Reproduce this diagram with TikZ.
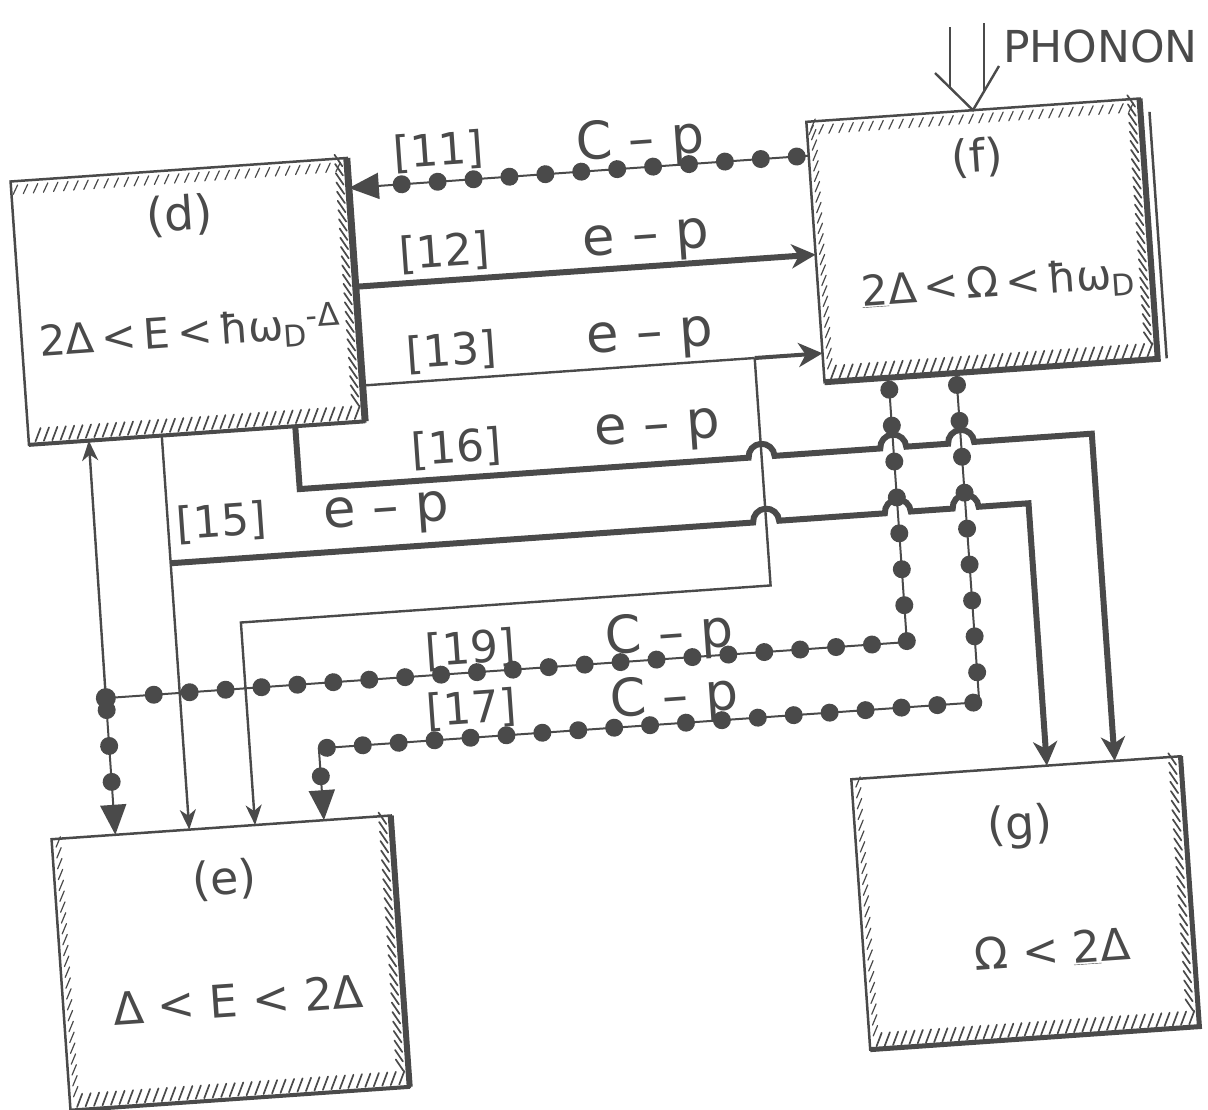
\documentclass[tikz,border=0pt]{standalone}
\usepackage{fontspec}
\setmainfont{DejaVu Sans}
\usetikzlibrary{arrows.meta,calc,decorations.markings}
\definecolor{ink}{HTML}{4A4A4A}
\newcommand{\fsz}[1]{\fontsize{#1}{#1}\selectfont}
\newcommand{\hatchB}[1]{\foreach \hp in {0.02,0.045,...,0.98}{\draw[hatch] ($(#1.south west)!\hp!(#1.south east)$) ++(0,-3) -- ++(6,-13);}}
\newcommand{\hatchT}[1]{\foreach \hp in {0.02,0.05,...,0.98}{\draw[hatch, line width=1.2pt] ($(#1.north west)!\hp!(#1.north east)$) ++(0,4) -- ++(-5,9);}}
\newcommand{\hatchR}[1]{\foreach \hp in {0.03,0.065,...,0.97}{\draw[hatch] ($(#1.north east)!\hp!(#1.south east)$) ++(-5,0) -- ++(-7,-12);}}
\newcommand{\hatchL}[1]{\foreach \hp in {0.03,0.07,...,0.97}{\draw[hatch, line width=1.2pt] ($(#1.north west)!\hp!(#1.south west)$) ++(4,0) -- ++(5,-10);}}
\begin{document}
\begin{tikzpicture}[x=1pt,y=-1pt,
  box/.style={draw=ink, line width=2.5pt, inner sep=0pt, outer sep=0pt},
  txt/.style={text=ink, inner sep=0pt, outer sep=0pt},
  hatch/.style={draw=ink, line width=1.7pt, line cap=round},
  thinln/.style={draw=ink, line width=2.4pt},
  thinarr/.style={thinln, -{Stealth[length=20pt,width=16pt,inset=6pt]}},
  thickln/.style={draw=ink, line width=6pt},
  thickarr/.style={thickln, -{Stealth[length=24pt,width=24pt,inset=7pt]}},
  beadln/.style={draw=ink, line width=2pt, postaction={decorate},
    decoration={markings, mark=between positions 12pt and -30pt step 36pt with {\fill[ink] (0,0) circle (9pt);}}},
  beadarr/.style={beadln, -{Triangle[length=30pt,width=26pt]}}]
\useasboundingbox (0,0) rectangle (1208,1109);
\fill[white] (0,0) rectangle (1208,1109);
\begin{scope}[rotate around={4:(604,554)}, transform shape]
  % boxes
  \node[box, minimum width=337pt, minimum height=264pt] (d) at (206.5,273) {};
  \node[box, minimum width=334pt, minimum height=261pt] (f) at (1003,267.5) {};
  \node[box, minimum width=340pt, minimum height=272pt] (e) at (203,936) {};
  \node[box, minimum width=330pt, minimum height=271pt] (g) at (1000,931.5) {};
  \draw[ink, line width=7pt] (d.north east) -- (d.south east);
  \draw[ink, line width=4pt] (d.south east) -- (d.south west);
  \draw[ink, line width=6pt] (f.north east) -- (f.south east) -- (f.south west);
  \draw[ink, line width=2.5pt] ($(f.north east)+(9,14)$) -- ($(f.south east)+(9,0)$);
  \draw[ink, line width=6pt] (e.north east) -- (e.south east);
  \draw[ink, line width=4pt] (e.south east) -- (e.south west);
  \draw[ink, line width=5pt] (g.north east) -- (g.south east) -- (g.south west);
  \hatchB{d}\hatchR{d}\hatchT{d}
  \hatchB{f}\hatchR{f}\hatchT{f}\hatchL{f}
  \hatchB{e}\hatchR{e}\hatchL{e}
  \hatchB{g}\hatchR{g}\hatchL{g}
  % box texts
  \node[txt, font=\fsz{47}] (dl) at (204,187) {(d)};
  \node[txt, font=\fsz{42}] (dt) at (206,305) {2Δ\,<\,E\,<\,ħω\raisebox{-0.35ex}{\fsz{30}D}\raisebox{0.45ex}{\fsz{32}-Δ}};
  \node[txt, font=\fsz{45}] (fl) at (1004,185) {(f)};
  \node[txt, font=\fsz{42}] (ft) at (1016,313) {\underline{2}Δ\,<\,Ω\,<\,ħω\raisebox{-0.35ex}{\fsz{30}D}};
  \node[txt, font=\fsz{46}] (el) at (203,853) {(e)};
  \node[txt, font=\fsz{45}] (et) at (208,973) {Δ < E < 2Δ};
  \node[txt, font=\fsz{46}] (gl) at (1000,855) {(g)};
  \node[txt, font=\fsz{44}] (gt) at (1024,980) {Ω < \underline{2}Δ};
  % connector end points
  \coordinate (d11) at ($(d.north east)!0.114!(d.south east)$);
  \coordinate (d12) at ($(d.north east)!0.489!(d.south east)$);
  \coordinate (d13) at ($(d.north east)!0.864!(d.south east)$);
  \coordinate (f11) at ($(f.north west)!0.130!(f.south west)$);
  \coordinate (f12) at ($(f.north west)!0.510!(f.south west)$);
  \coordinate (f13) at ($(f.north west)!0.889!(f.south west)$);
  \coordinate (d19) at ($(d.south west)!0.178!(d.south east)$);
  \coordinate (d15) at ($(d.south west)!0.395!(d.south east)$);
  \coordinate (d16) at ($(d.south west)!0.792!(d.south east)$);
  \coordinate (f19) at ($(f.south west)!0.192!(f.south east)$);
  \coordinate (f17) at ($(f.south west)!0.395!(f.south east)$);
  \coordinate (e19) at ($(e.north west)!0.188!(e.north east)$);
  \coordinate (e15) at ($(e.north west)!0.406!(e.north east)$);
  \coordinate (e13) at ($(e.north west)!0.600!(e.north east)$);
  \coordinate (e17) at ($(e.north west)!0.803!(e.north east)$);
  \coordinate (g15) at ($(g.north west)!0.594!(g.north east)$);
  \coordinate (g16) at ($(g.north west)!0.800!(g.north east)$);
  \coordinate (j13) at (768,369);
  \coordinate (j15) at (171,533);
  \coordinate (j19) at (97,663);
  % thin connectors
  \draw[thinln] (d13) -- (j13);
  \draw[thickarr, line width=4pt] (j13) -- (f13);
  \draw[thinarr] (j13) -- (768,597) -- (237,597) -- (e13);
  \draw[thinarr] (d15) -- (e15);
  \draw[thinarr] (j19) -- (d19);
  % beaded connectors
  \draw[beadarr] (f11) -- (d11);
  \draw[beadln] (f19) -- (900,663) -- (j19);
  \fill[ink] (j19) circle (10pt);
  \draw[beadarr] (j19) -- (e19);
  \draw[beadarr] (f17) -- (968,728) -- (306,728) -- (e17);
  % thick connectors
  \draw[thickarr] (d12) -- (f12);
  \draw[thickarr] (d16) -- (305,468) -- (755,468) arc[start angle=180, end angle=360, radius=13]
     -- (887,468) arc[start angle=180, end angle=360, radius=13]
     -- (955,468) arc[start angle=180, end angle=360, radius=13]
     -- (1099,468) -- (g16);
  \draw[thickarr] (j15) -- (755,533) arc[start angle=180, end angle=360, radius=13]
     -- (887,533) arc[start angle=180, end angle=360, radius=13]
     -- (955,533) arc[start angle=180, end angle=360, radius=13]
     -- (1031,533) -- (g15);
  % labels
  \node[txt, font=\fsz{44}] (n11) at (467,141) {[11]};
  \node[txt, font=\fsz{52}] (c11) at (669,146) {C – p};
  \node[txt, font=\fsz{44}] (n12) at (466,242) {[12]};
  \node[txt, font=\fsz{53}] (c12) at (668,246) {e – p};
  \node[txt, font=\fsz{44}] (n13) at (466,342) {[13]};
  \node[txt, font=\fsz{53}] (c13) at (665,344) {e – p};
  \node[txt, font=\fsz{44}] (n16) at (464,439) {[16]};
  \node[txt, font=\fsz{53}] (c16) at (666,436) {e – p};
  \node[txt, font=\fsz{44}] (n15) at (225,496) {[15]};
  \node[txt, font=\fsz{53}] (c15) at (390,500) {e – p};
  \node[txt, font=\fsz{44}] (n19) at (464,640) {[19]};
  \node[txt, font=\fsz{52}] (c19) at (664,641) {C – p};
  \node[txt, font=\fsz{44}] (n17) at (461,700) {[17]};
  \node[txt, font=\fsz{52}] (c17) at (664,704) {C – p};
\end{scope}
% phonon input
\coordinate (pa) at (950,27);
\coordinate (pb) at (984,23);
\coordinate (pl) at (935,73);
\coordinate (pr) at (999,66);
\draw[thinln] (pa) -- (950,89);
\draw[thinln] (pb) -- (984,91);
\draw[thinln, line join=miter] (pl) -- (f.north) -- (pr);
\node[txt, font=\fsz{44}, anchor=west] (ph) at (1003,46) {PHONON};
\end{tikzpicture}
\end{document}
